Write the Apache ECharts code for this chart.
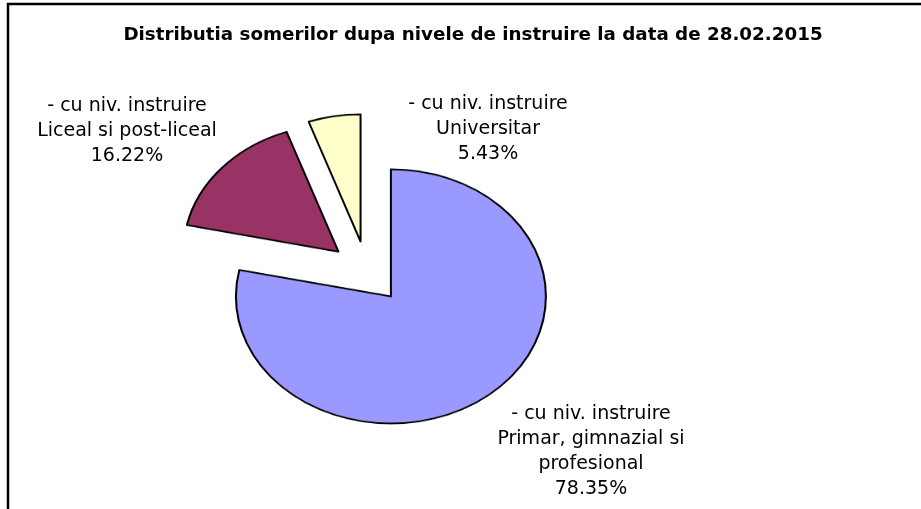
<!DOCTYPE html>
<html>
<head>
<meta charset="utf-8">
<script src="https://cdn.jsdelivr.net/npm/echarts@6/dist/echarts.min.js"></script>
<style>
  html, body { margin: 0; padding: 0; background: #fff; }
  .layer { position: absolute; left: 0; top: 0; width: 921px; height: 509px; }
  /* the original pie is an ellipse, so the pie layer is squashed vertically */
  #pie { transform-origin: 0 273px; transform: scaleY(0.82); }
</style>
</head>
<body>
<div id="pie" class="layer"></div>
<div id="main" class="layer"></div>
<script>
const titleText = 'Distributia somerilor dupa nivele de instruire la data de 28.02.2015'
const labelPrefix = '- cu niv. instruire'
const categories = ['Primar, gimnazial si\nprofesional', 'Liceal si post-liceal', 'Universitar']
const shares = [78.35, 16.22, 5.43]
const colors = ['#9999FF', '#993366', '#FFFFCC']

// label anchors (center x, top y)
const labelPos = [[591, 402], [127, 94], [488, 92]]

const pieChart = echarts.init(document.getElementById('pie'))
pieChart.setOption({
  animation: false,
  series: [{
    type: 'pie',
    center: [367, 272],
    radius: 155,
    startAngle: 90,
    clockwise: true,
    selectedMode: 'multiple',
    selectedOffset: 38,
    label: { show: false },
    labelLine: { show: false },
    emphasis: { disabled: true },
    itemStyle: { borderColor: '#000', borderWidth: 2 },
    data: categories.map((c, i) => ({
      name: c,
      value: shares[i],
      selected: true,
      itemStyle: { color: colors[i] }
    }))
  }]
})

const chart = echarts.init(document.getElementById('main'))
chart.setOption({
  animation: false,
  title: {
    text: titleText,
    left: 468,
    top: 21,
    textAlign: 'center',
    textStyle: { fontFamily: 'DejaVu Sans', fontWeight: 'bold', fontSize: 18.3, color: '#000' }
  },
  graphic: [
    {
      type: 'rect',
      shape: { x: 8, y: 4, width: 940, height: 540 },
      style: { fill: 'none', stroke: '#000', lineWidth: 2.5 }
    },
    ...categories.map((c, i) => ({
      type: 'text',
      x: labelPos[i][0],
      y: labelPos[i][1],
      style: {
        text: labelPrefix + '\n' + c + '\n' + shares[i].toFixed(2) + '%',
        font: '19px "DejaVu Sans"',
        fill: '#000',
        textAlign: 'center',
        textVerticalAlign: 'top',
        lineHeight: 25
      }
    }))
  ]
})
</script>
</body>
</html>
